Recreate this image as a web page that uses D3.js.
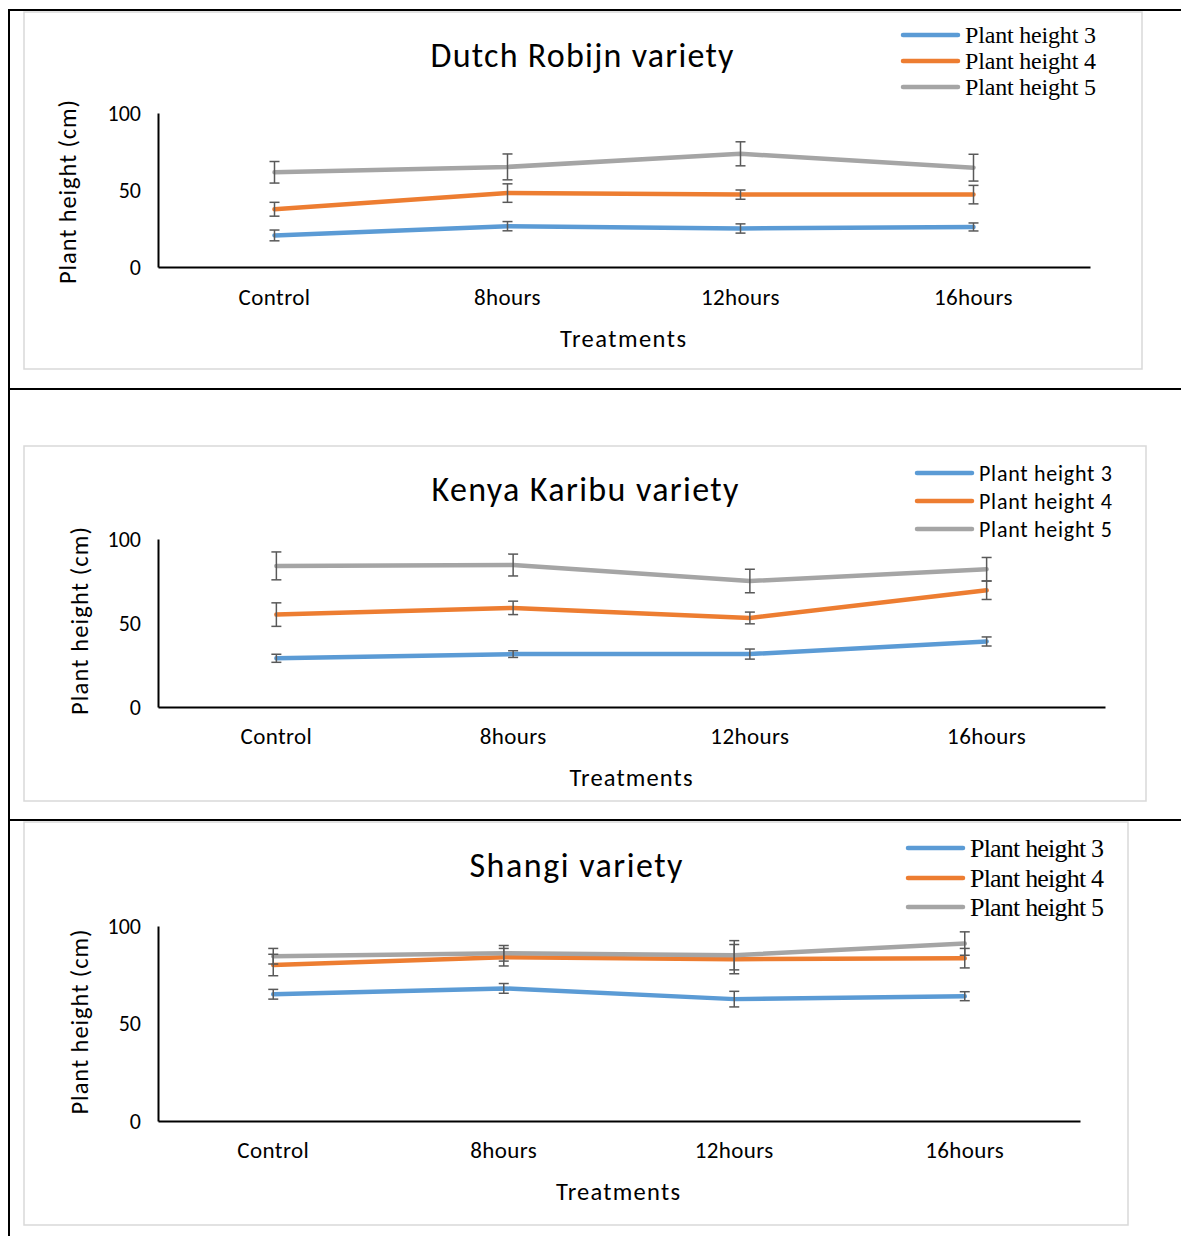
<!DOCTYPE html>
<html>
<head>
<meta charset="utf-8">
<script src="https://cdn.jsdelivr.net/npm/d3@7"></script>
<style>
  html, body { margin: 0; padding: 0; background: #fff; }
  svg { display: block; }
</style>
</head>
<body>
<svg id="chart" width="1181" height="1236"></svg>
<script>
// Treatments and series shared by all three varieties
const categories = ["Control", "8hours", "12hours", "16hours"];
const seriesNames = ["Plant height 3", "Plant height 4", "Plant height 5"];
const yTicks = [0, 50, 100];

// Dutch Robijn variety: means and error (± cm)
const dutchH3 = [20.5, 26.5, 25, 26];
const dutchH3Err = [3.5, 3, 3, 2.6];
const dutchH4 = [37.5, 48, 47, 47];
const dutchH4Err = [4.5, 6, 3, 6];
const dutchH5 = [61.5, 65, 73.5, 64.5];
const dutchH5Err = [7, 8.4, 7.8, 8.7];

// Kenya Karibu variety
const kenyaH3 = [29, 31.5, 31.5, 39];
const kenyaH3Err = [2.4, 2, 3, 2.7];
const kenyaH4 = [55, 59, 53, 69.5];
const kenyaH4Err = [7, 4, 3.5, 5.5];
const kenyaH5 = [84, 84.5, 75, 82];
const kenyaH5Err = [8.3, 6.5, 7, 7];

// Shangi variety
const shangiH3 = [65, 68, 62.5, 64];
const shangiH3Err = [2.5, 2.5, 4, 2.3];
const shangiH4 = [80, 84, 83, 83.5];
const shangiH4Err = [5.5, 4.5, 7.5, 5];
const shangiH5 = [84.5, 86, 85, 91];
const shangiH5Err = [4, 4, 7.5, 6];

const colors = ["#5B9BD5", "#ED7D31", "#A5A5A5"];
const sansFont = "Carlito, Lato, 'Open Sans', sans-serif";
const serifFont = "'Liberation Serif', 'DejaVu Serif', serif";

const panels = [
  {
    title: "Dutch Robijn variety",
    means: [dutchH3, dutchH4, dutchH5],
    errs: [dutchH3Err, dutchH4Err, dutchH5Err],
    frame: { x: 24, y: 12, w: 1118, h: 357 },
    plot: { x0: 158, x1: 1090, top: 113, bottom: 267 },
    titleX: 582, titleY: 55, titleW: 303,
    legend: { x: 903, ys: [35, 61, 87], font: serifFont, size: 24, w: 131 },
    xLabelY: 297, xTitleX: 623, xTitleY: 339, xTitleW: 126,
    yTitleX: 68, yTitleY: 192, yTitleW: 184
  },
  {
    title: "Kenya Karibu variety",
    means: [kenyaH3, kenyaH4, kenyaH5],
    errs: [kenyaH3Err, kenyaH4Err, kenyaH5Err],
    frame: { x: 24, y: 446, w: 1122, h: 355 },
    plot: { x0: 158, x1: 1105, top: 539, bottom: 707 },
    titleX: 585, titleY: 489, titleW: 307,
    legend: { x: 917, ys: [473, 501, 529], font: sansFont, size: 22, w: 133 },
    xLabelY: 736, xTitleX: 631, xTitleY: 778, xTitleW: 123,
    yTitleX: 80, yTitleY: 621, yTitleW: 188
  },
  {
    title: "Shangi variety",
    means: [shangiH3, shangiH4, shangiH5],
    errs: [shangiH3Err, shangiH4Err, shangiH5Err],
    frame: { x: 24, y: 822, w: 1104, h: 403 },
    plot: { x0: 158, x1: 1080, top: 926, bottom: 1121 },
    titleX: 576, titleY: 865, titleW: 213,
    legend: { x: 908, ys: [848, 878, 907], font: serifFont, size: 26, w: 134 },
    xLabelY: 1150, xTitleX: 618, xTitleY: 1192, xTitleW: 124,
    yTitleX: 80, yTitleY: 1022, yTitleW: 185
  }
];

// stretch the spacing of a text element to a given width
function fitWidth(sel, w) {
  sel.attr("textLength", w).attr("lengthAdjust", "spacing");
}

const svg = d3.select("#chart");

// Document table rules around the three figures
const rules = svg.append("g").attr("stroke", "#000").attr("stroke-width", 2);
[10, 389, 820].forEach(y => {
  rules.append("line").attr("x1", 9).attr("x2", 1181).attr("y1", y).attr("y2", y);
});
rules.append("line").attr("x1", 9).attr("x2", 9).attr("y1", 9).attr("y2", 1236);

panels.forEach(p => {
  const g = svg.append("g");

  // chart area frame
  g.append("rect")
    .attr("x", p.frame.x).attr("y", p.frame.y)
    .attr("width", p.frame.w).attr("height", p.frame.h)
    .attr("fill", "#fff").attr("stroke", "#d9d9d9").attr("stroke-width", 1.5);

  const x = d3.scaleBand().domain(categories).range([p.plot.x0, p.plot.x1]);
  const y = d3.scaleLinear().domain([0, 100]).range([p.plot.bottom, p.plot.top]);
  const cx = c => x(c) + x.bandwidth() / 2;

  // title
  g.append("text")
    .attr("x", p.titleX).attr("y", p.titleY)
    .attr("text-anchor", "middle").attr("dominant-baseline", "central")
    .attr("font-family", sansFont).attr("font-size", 34)
    .attr("fill", "#000")
    .text(p.title)
    .call(fitWidth, p.titleW);

  // y axis
  const yAxis = g.append("g")
    .attr("transform", `translate(${p.plot.x0},0)`)
    .call(d3.axisLeft(y).tickValues(yTicks).tickSize(0).tickPadding(17));
  yAxis.select(".domain").attr("stroke", "#000").attr("stroke-width", 2);
  yAxis.selectAll("text")
    .attr("font-family", sansFont).attr("font-size", 22).attr("fill", "#000");

  // x axis
  const xAxis = g.append("g")
    .attr("transform", `translate(0,${p.plot.bottom})`)
    .call(d3.axisBottom(x).tickSize(0).tickPadding(0));
  xAxis.select(".domain").attr("stroke", "#000").attr("stroke-width", 2);
  xAxis.selectAll("text")
    .attr("y", p.xLabelY - p.plot.bottom).attr("dy", "0.35em")
    .attr("font-family", sansFont).attr("font-size", 23)
    .attr("letter-spacing", 0.4).attr("fill", "#000");

  // axis titles
  g.append("text")
    .attr("x", p.xTitleX).attr("y", p.xTitleY)
    .attr("text-anchor", "middle").attr("dominant-baseline", "central")
    .attr("font-family", sansFont).attr("font-size", 24.5).attr("fill", "#000")
    .text("Treatments")
    .call(fitWidth, p.xTitleW);
  g.append("text")
    .attr("transform", `translate(${p.yTitleX},${p.yTitleY}) rotate(-90)`)
    .attr("text-anchor", "middle").attr("dominant-baseline", "central")
    .attr("font-family", sansFont).attr("font-size", 24.5).attr("fill", "#000")
    .text("Plant height (cm)")
    .call(fitWidth, p.yTitleW);

  // series lines
  const line = d3.line().x((d, i) => cx(categories[i])).y(d => y(d));
  p.means.forEach((vals, s) => {
    g.append("path")
      .datum(vals)
      .attr("d", line)
      .attr("fill", "none")
      .attr("stroke", colors[s])
      .attr("stroke-width", 4.5)
      .attr("stroke-linejoin", "round")
      .attr("stroke-linecap", "round");
  });

  // error bars
  const eb = g.append("g").attr("stroke", "#595959").attr("stroke-width", 1.5);
  p.means.forEach((vals, s) => {
    vals.forEach((v, i) => {
      const e = p.errs[s][i];
      const xc = cx(categories[i]);
      const yHi = y(v + e), yLo = y(v - e);
      eb.append("line").attr("x1", xc).attr("x2", xc).attr("y1", yHi).attr("y2", yLo);
      eb.append("line").attr("x1", xc - 5).attr("x2", xc + 5).attr("y1", yHi).attr("y2", yHi);
      eb.append("line").attr("x1", xc - 5).attr("x2", xc + 5).attr("y1", yLo).attr("y2", yLo);
    });
  });

  // legend
  const lg = g.append("g");
  seriesNames.forEach((name, s) => {
    const ly = p.legend.ys[s];
    lg.append("line")
      .attr("x1", p.legend.x).attr("x2", p.legend.x + 55)
      .attr("y1", ly).attr("y2", ly)
      .attr("stroke", colors[s]).attr("stroke-width", 4.5)
      .attr("stroke-linecap", "round");
    lg.append("text")
      .attr("x", p.legend.x + 62).attr("y", ly)
      .attr("dominant-baseline", "central")
      .attr("font-family", p.legend.font).attr("font-size", p.legend.size)
      .attr("fill", "#000")
      .text(name)
      .call(fitWidth, p.legend.w);
  });
});
</script>
</body>
</html>
